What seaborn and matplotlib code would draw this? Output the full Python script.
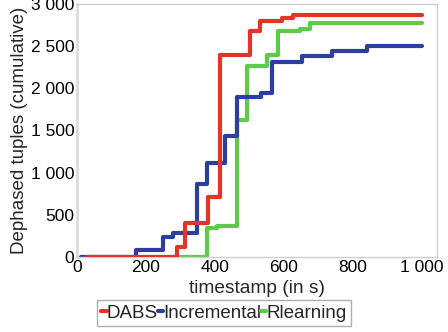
import matplotlib
matplotlib.use("Agg")
import matplotlib.pyplot as plt
from matplotlib.ticker import FuncFormatter
import pandas as pd
import seaborn as sns

# Cumulative count of dephased tuples per method (step changes: time in s, running total)
dabs_t = [30, 291, 314, 381, 415, 503, 532, 596, 628, 1003]
dabs_v = [0, 120, 400, 715, 2400, 2680, 2800, 2830, 2870, 2870]

incr_t = [12, 171, 250, 279, 348, 378, 430, 465, 535, 567, 654, 741, 843, 1003]
incr_v = [0, 80, 240, 290, 870, 1120, 1440, 1900, 1950, 2310, 2380, 2440, 2500, 2500]

rlearn_t = [30, 378, 407, 465, 494, 552, 584, 648, 677, 1003]
rlearn_v = [0, 345, 370, 1630, 2260, 2400, 2680, 2700, 2770, 2770]

methods = ["DABS", "Incremental", "Rlearning"]
colors = ["#e5322a", "#2c3f9f", "#5ccb48"]
x_ticks = [0, 200, 400, 600, 800, 1000]
y_ticks = [0, 500, 1000, 1500, 2000, 2500, 3000]

frames = []
for name, t, v in zip(methods, [dabs_t, incr_t, rlearn_t], [dabs_v, incr_v, rlearn_v]):
    frames.append(pd.DataFrame({"timestamp": t, "tuples": v, "method": name}))
df = pd.concat(frames, ignore_index=True)

sns.set_style("white")
plt.rcParams["font.family"] = ["Liberation Sans", "DejaVu Sans"]

fig = plt.figure(figsize=(4.48, 3.32), dpi=100)
ax = fig.add_axes([0.172, 0.226, 0.803, 0.762])

# draw order: green underneath, red on top
for name, col, z in zip(methods, colors, [3, 2, 1]):
    sub = df[df["method"] == name]
    sns.lineplot(data=sub, x="timestamp", y="tuples", ax=ax, color=col,
                 linewidth=3.0, drawstyle="steps-post", estimator=None,
                 label=name, zorder=z)

ax.set_xlim(0, 1045)
ax.set_ylim(0, 3000)
ax.set_xticks(x_ticks)
ax.set_yticks(y_ticks)

fmt = FuncFormatter(lambda v, p: f"{int(v):,}".replace(",", " "))
ax.xaxis.set_major_formatter(fmt)
ax.yaxis.set_major_formatter(fmt)
ax.tick_params(axis="both", length=0, labelsize=12.5, pad=2, colors="black")

ax.set_xlabel("timestamp (in s)", fontsize=13.8, labelpad=4)
ax.set_ylabel("Dephased tuples (cumulative)", fontsize=13.5, labelpad=2)

for s in ["top", "right", "bottom"]:
    ax.spines[s].set_color("#cfcfcf")
    ax.spines[s].set_linewidth(1.0)
ax.spines["left"].set_color("#dcdcdc")
ax.spines["left"].set_linewidth(2.0)

handles, labels = ax.get_legend_handles_labels()
if ax.legend_:
    ax.legend_.remove()
leg = fig.legend(handles, labels, loc="center", bbox_to_anchor=(0.5, 0.057),
                 ncol=3, fontsize=13.5, handlelength=0.28, handletextpad=0.0,
                 columnspacing=0.0, borderpad=0.25, borderaxespad=0,
                 fancybox=False, frameon=True, edgecolor="#9a9a9a")
leg.get_frame().set_linewidth(1.0)

fig.savefig("out.png", dpi=100)
